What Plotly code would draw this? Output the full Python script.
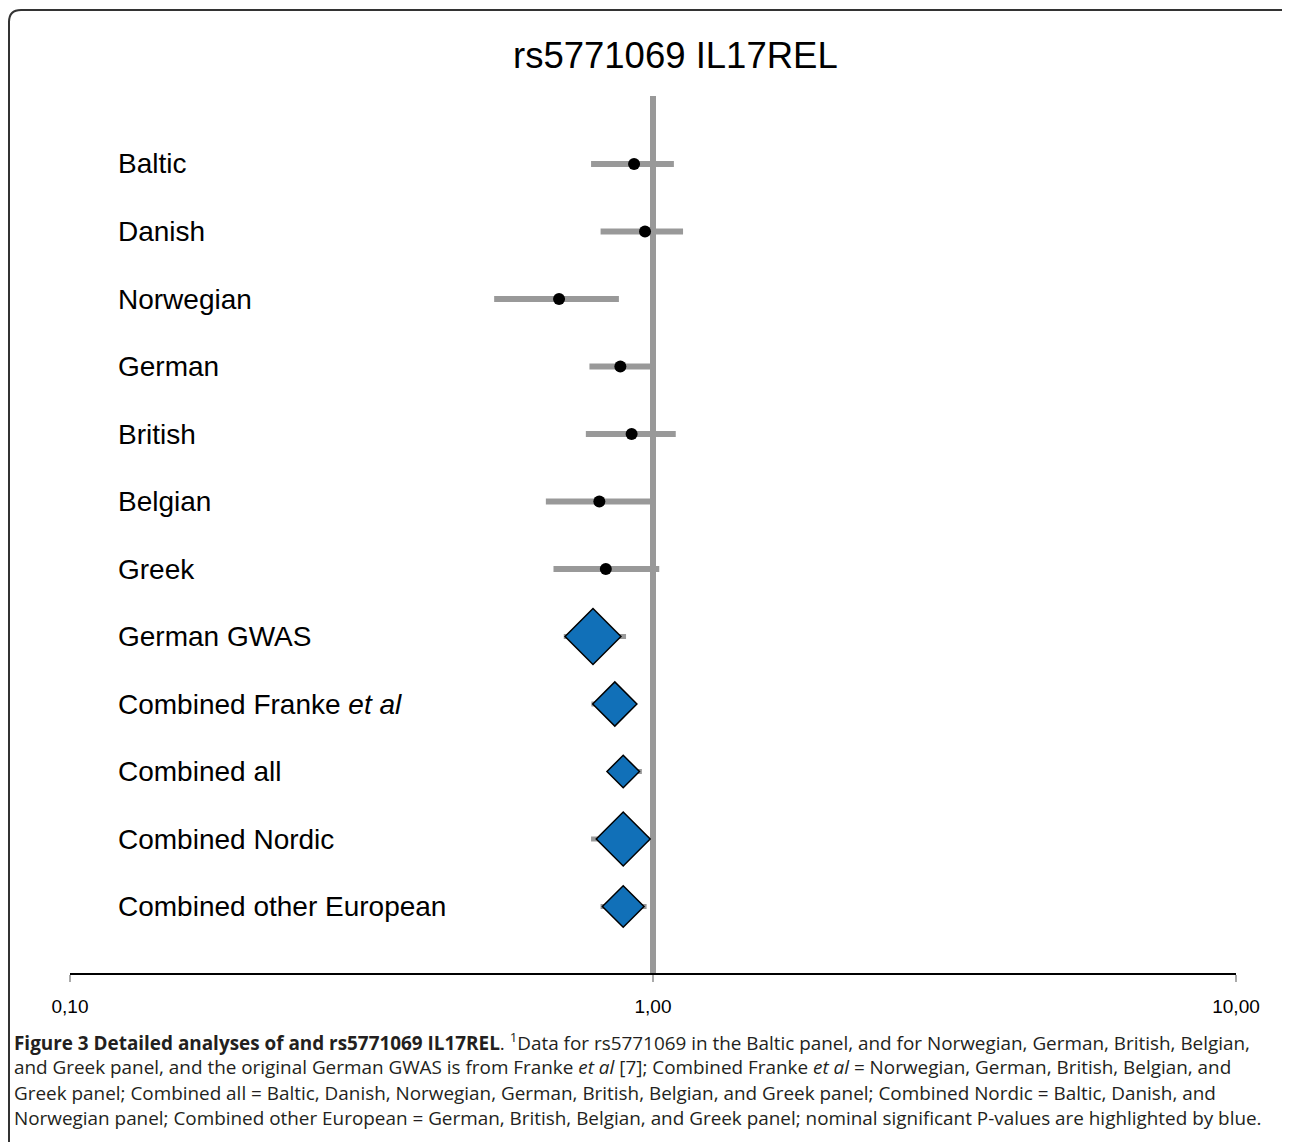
import plotly.graph_objects as go

W, H = 1290, 1142

# ---------------- data ----------------
study_labels = ["Baltic", "Danish", "Norwegian", "German", "British", "Belgian", "Greek"]
study_or = [0.928, 0.969, 0.690, 0.879, 0.919, 0.809, 0.830]
study_lo = [0.783, 0.813, 0.534, 0.778, 0.767, 0.655, 0.675]
study_hi = [1.086, 1.126, 0.874, 0.990, 1.094, 0.990, 1.025]

combo_labels = ["German GWAS", "Combined Franke <i>et al</i>", "Combined all",
                "Combined Nordic", "Combined other European"]
combo_or = [0.789, 0.860, 0.889, 0.889, 0.889]
combo_lo = [0.703, 0.784, 0.840, 0.783, 0.813]
combo_hi = [0.899, 0.930, 0.957, 0.985, 0.975]

tick_vals = [0.1, 1, 10]
tick_text = ["0,10", "1,00", "10,00"]

title_text = "rs5771069 IL17REL"
caption_lines = [
    "<b>Figure 3 Detailed analyses of and rs5771069 IL17REL</b>. <sup>1</sup>Data for rs5771069 in the Baltic panel, and for Norwegian, German, British, Belgian,",
    "and Greek panel, and the original German GWAS is from Franke <i>et al</i> [7]; Combined Franke <i>et al</i> = Norwegian, German, British, Belgian, and",
    "Greek panel; Combined all = Baltic, Danish, Norwegian, German, British, Belgian, and Greek panel; Combined Nordic = Baltic, Danish, and",
    "Norwegian panel; Combined other European = German, British, Belgian, and Greek panel; nominal significant P-values are highlighted by blue.",
]

# ---------------- styles ----------------
diamond_sizes = [43, 34, 25, 41.5, 32]
GRAY = "#999999"
BLUE = "#1170B8"

labels = study_labels + combo_labels
n = len(labels)
rows = list(range(n))

# page offset (body margin) compensation
OX, OY = 8, 8


def X(t):
    return (t - OX) / W


def Y(t):
    return 1 - (t - OY) / H


x_left_px, x_right_px = 70, 1236
plot_top_px, plot_bot_px = 96, 973
row0_px, row_step_px = 164, 67.5
y_top = -(row0_px - plot_top_px) / row_step_px
y_bot = (plot_bot_px - row0_px) / row_step_px

fig = go.Figure()

# reference line at OR = 1
fig.add_trace(go.Scatter(x=[1, 1], y=[y_top, y_bot], mode="lines",
                         line=dict(color=GRAY, width=6), hoverinfo="skip",
                         showlegend=False))

# confidence intervals
all_lo = study_lo + combo_lo
all_hi = study_hi + combo_hi
for i in rows:
    w = 6 if i < len(study_labels) else 5
    fig.add_trace(go.Scatter(x=[all_lo[i], all_hi[i]], y=[i, i], mode="lines",
                             line=dict(color=GRAY, width=w), hoverinfo="skip",
                             showlegend=False))

# study point estimates
fig.add_trace(go.Scatter(x=study_or, y=rows[:len(study_labels)], mode="markers",
                         marker=dict(color="black", size=12, symbol="circle", opacity=1),
                         showlegend=False))

# combined estimates
fig.add_trace(go.Scatter(x=combo_or, y=rows[len(study_labels):], mode="markers",
                         marker=dict(color=BLUE, size=diamond_sizes, symbol="diamond",
                                     opacity=1, line=dict(color="black", width=1.5)),
                         showlegend=False))

annotations = []
for i, lab in enumerate(labels):
    annotations.append(dict(x=X(116), xref="paper", y=i, yref="y", text=lab,
                            showarrow=False, xanchor="left", yanchor="middle",
                            font=dict(family="Liberation Sans, Arial", size=28, color="black")))

annotations.append(dict(x=X(675), xref="paper", y=Y(56), yref="paper", text=title_text,
                        showarrow=False, xanchor="center", yanchor="middle",
                        font=dict(family="Liberation Sans, Arial", size=36.5, color="black")))

cap_y = [1042, 1067, 1093, 1118]
for t, yy in zip(caption_lines, cap_y):
    annotations.append(dict(x=X(12), xref="paper", y=Y(yy), yref="paper", text=t,
                            showarrow=False, xanchor="left", yanchor="middle",
                            font=dict(family="Open Sans", size=18.9, color="#231f20")))

# rounded frame (open on right / bottom as in reference)
r = 12
x0, y0 = 9, 10
path = (f"M {X(x0)} {Y(H + 20)} L {X(x0)} {Y(y0 + r)} "
        f"Q {X(x0)} {Y(y0)} {X(x0 + r)} {Y(y0)} "
        f"L {X(1284)} {Y(y0)} Q {X(1288)} {Y(y0)} {X(1290)} {Y(y0 + 4)}")
shapes = [dict(type="path", xref="paper", yref="paper", path=path,
               line=dict(color="#333333", width=2))]

fig.update_layout(
    width=W, height=H,
    autosize=False,
    margin=dict(l=0, r=0, t=0, b=0, pad=0, autoexpand=False),
    paper_bgcolor="white", plot_bgcolor="white",
    showlegend=False,
    annotations=annotations,
    shapes=shapes,
    xaxis=dict(type="log", range=[-1, 1], domain=[X(x_left_px), X(x_right_px)],
               tickvals=tick_vals, ticktext=tick_text, showgrid=False, zeroline=False,
               showline=True, linecolor="black", linewidth=1.5, automargin=False,
               ticks="outside", ticklen=7, tickcolor="#aaaaaa", tickwidth=1.5,
               ticklabelstandoff=8,
               tickfont=dict(family="Liberation Sans, Arial", size=19, color="black"),
               anchor="y", fixedrange=True),
    yaxis=dict(range=[y_bot, y_top], domain=[Y(plot_bot_px), Y(plot_top_px)],
               visible=False, showgrid=False, zeroline=False, fixedrange=True,
               automargin=False),
)

fig.write_html("out.html")
